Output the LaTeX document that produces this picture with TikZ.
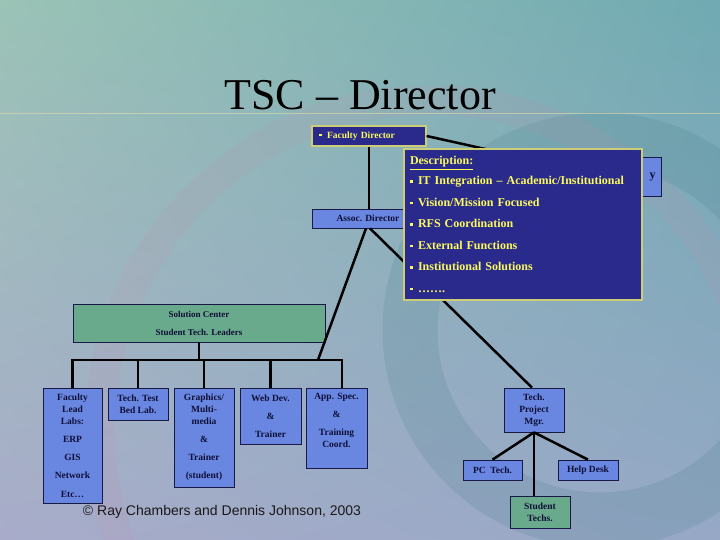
\documentclass[tikz,border=0pt]{standalone}
\usepackage{fontspec}
\setmainfont{Liberation Serif}
\setsansfont{Liberation Sans}
\usetikzlibrary{positioning,shadings}
\definecolor{bgul}{RGB}{155,195,182}
\definecolor{bgur}{RGB}{112,170,178}
\definecolor{bgll}{RGB}{168,172,202}
\definecolor{bglr}{RGB}{150,168,198}
\definecolor{swoosh}{RGB}{55,115,125}
\definecolor{pinkband}{RGB}{200,140,170}
\definecolor{titlerule}{RGB}{225,220,170}
\definecolor{boxline}{RGB}{25,25,70}
\definecolor{boxtext}{RGB}{15,15,55}
\definecolor{unitblue}{RGB}{105,135,225}
\definecolor{unitgreen}{RGB}{105,170,140}
\definecolor{navyfill}{RGB}{42,42,140}
\definecolor{navyline}{RGB}{205,205,120}
\definecolor{navytext}{RGB}{250,250,95}
\newcommand{\sqbul}{\rule[2pt]{2.5pt}{2.5pt}\hspace{5.5pt}}
\tikzset{
  unit/.style = {draw=boxline, line width=0.7pt, fill=#1, text=boxtext,
                 font=\bfseries\fontsize{9.5}{12}\selectfont, align=center, inner sep=1pt},
  unit/.default = unitblue,
  navybox/.style = {draw=navyline, line width=1.2pt, fill=navyfill, text=navytext, align=left},
  link/.style = {line width=2.5pt, draw=black},
}
\begin{document}
\begin{tikzpicture}[x=1pt,y=-1pt]
% background of the slide
\useasboundingbox (0,0) rectangle (720,540);
\shade[upper left=bgul, upper right=bgur, lower left=bgll, lower right=bglr] (0,0) rectangle (720,540);
\begin{scope}
\clip (0,0) rectangle (720,540);
\draw[swoosh, line width=55pt, opacity=.15] (600,330) circle[radius=190];
\draw[pinkband, line width=30pt, opacity=.12] (430,430) circle[radius=330];
\end{scope}
\draw[titlerule, line width=.8pt, opacity=.6] (0,113) -- (720,113);
\node[font=\fontsize{44}{50}\selectfont, anchor=base] (title) at (360,110) {TSC – Director};

% upper part
\node[unit, minimum width=141, minimum height=39, text width=130, align=right,
      font=\bfseries\fontsize{12}{14}\selectfont] (itbox) at (590.5,176.5) {\raisebox{-6pt}{y}};
\node[navybox, minimum width=114, minimum height=20, text width=100,
      font=\bfseries\fontsize{9.5}{11}\selectfont] (fdir) at (369,136) {\sqbul Faculty Director};
\node[unit, minimum width=112, minimum height=19] (assoc) at (368,218.5) {Assoc. Director};
\node[unit=unitgreen, minimum width=252, minimum height=38,
      font=\bfseries\fontsize{9}{18}\selectfont] (solc) at (199,323) {Solution Center\\Student Tech. Leaders};
\node[unit, minimum width=60, minimum height=44] (tpm) at (534,410) {Tech.\\Project\\Mgr.};
\coordinate (join) at (318,360);

\draw[link] (fdir.east) -- (itbox.north west);
\draw[link] (fdir.south) -- (fdir.south |- assoc.north);
\draw[link] ([xshift=2pt]assoc.south) -- ([xshift=-2pt]tpm.north);
\draw[link] ([xshift=-2pt]assoc.south) -- (join);

\node[navybox, minimum width=238, minimum height=151, text width=226, inner xsep=6pt,
      font=\bfseries\fontsize{12}{21.5}\selectfont] (desc) at (523,224.5)
  {\underline{Description:}\\[-1.5pt]
   \sqbul IT Integration – Academic/Institutional\\
   \sqbul Vision/Mission Focused\\
   \sqbul RFS Coordination\\
   \sqbul External Functions\\
   \sqbul Institutional Solutions\\
   \sqbul …….};

% solution center units
\node[unit, minimum width=59, minimum height=115] (labs) at (72.5,445.5)
  {Faculty\\Lead\\Labs:\\[6pt]ERP\\[6pt]GIS\\[6pt]Network\\[7pt]Etc…};
\node[unit, minimum width=60, minimum height=32] (bed) at (138,404) {Tech. Test\\Bed Lab.};
\node[unit, minimum width=60, minimum height=99] (gfx) at (204,437.5)
  {Graphics/\\Multi-\\media\\[6pt]\&\\[6pt]Trainer\\[6pt](student)};
\node[unit, minimum width=61, minimum height=56] (web) at (270.5,416) {Web Dev.\\[6pt]\&\\[6pt]Trainer};
\node[unit, minimum width=61, minimum height=80] (app) at (336.5,428)
  {App. Spec.\\[6pt]\&\\[6pt]Training\\Coord.\\[4pt]};
\coordinate (appin) at ([xshift=5.5pt]app.north);

\draw[link] (labs.north) |- (join) -- (appin |- join) -- (appin);
\foreach \n in {bed,gfx,web}
  \draw[link] (\n.north) -- (\n.north |- join);
\draw[link] (solc.south) -- (solc.south |- join);

% technology projects
\node[unit, minimum width=59, minimum height=20] (pc) at (492.5,470) {PC~~Tech.};
\node[unit, minimum width=60, minimum height=20] (desk) at (588,470) {Help Desk};
\node[unit=unitgreen, minimum width=60, minimum height=32] (stud) at (540,512) {Student\\Techs.};
\draw[link] (tpm.south) -- (pc.north);
\draw[link] (tpm.south) -- (desk.north);
\draw[link] (tpm.south) -- (tpm.south |- stud.north);

\node[font=\sffamily\fontsize{14}{16}\selectfont, text=black!90] (credit) at (222,512)
  {© Ray Chambers and Dennis Johnson, 2003};
\end{tikzpicture}
\end{document}
